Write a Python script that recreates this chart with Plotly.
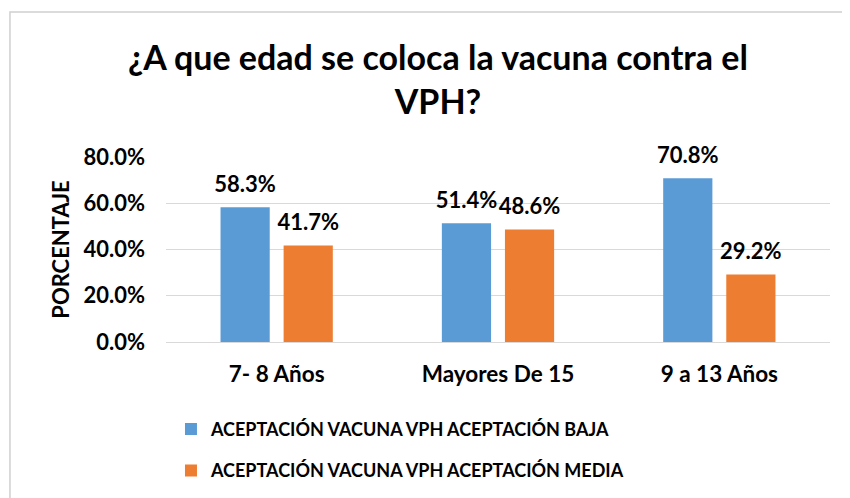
# ¿A que edad se coloca la vacuna contra el VPH? - aceptacion por grupo de edad
import plotly.graph_objects as go

categorias = ["7- 8 Años", "Mayores De 15", "9 a 13 Años"]
baja = [0.583, 0.514, 0.708]
media = [0.417, 0.486, 0.292]
series = ["ACEPTACIÓN VACUNA VPH ACEPTACIÓN BAJA", "ACEPTACIÓN VACUNA VPH ACEPTACIÓN MEDIA"]
colores = ["#5B9BD5", "#ED7D31"]

FONT = "Lato"
BAR_GAP = 0.43
OFF = 8  # page body margin added by write_html

fig = go.Figure()
for nombre, valores, color in zip(series, [baja, media], colores):
    fig.add_trace(go.Bar(
        x=categorias, y=valores, name=nombre,
        marker=dict(color=color, line=dict(width=0)),
        offsetgroup=nombre, legendgroup=nombre,
    ))
# data labels, placed a bit higher than plotly's "outside" does (excel style)
for nombre, valores in zip(series, [baja, media]):
    fig.add_trace(go.Scatter(
        x=categorias, y=valores, mode="markers+text",
        text=[f"{v*100:.1f}%" for v in valores],
        textposition="top center",
        textfont=dict(family=FONT, size=22, color="#000000", weight="bold"),
        marker=dict(size=14, opacity=0),
        offsetgroup=nombre, showlegend=False, hoverinfo="skip",
        cliponaxis=False,
    ))

fig.update_layout(
    width=850, height=498,
    margin=dict(l=166 - OFF, r=20 + OFF, t=157 - OFF, b=156 + OFF, autoexpand=False),
    paper_bgcolor="white", plot_bgcolor="white",
    barmode="group", bargap=BAR_GAP, bargroupgap=0.22,
    scattermode="group", scattergap=BAR_GAP,
    font=dict(family=FONT, color="#000000"),
    title=dict(
        text="<b>¿A que edad se coloca la vacuna contra el<br>VPH?</b>",
        x=(438 - OFF) / 850, xanchor="center", xref="container",
        y=0.875, yanchor="middle", yref="container",
        font=dict(family=FONT, size=34, color="#000000"),
    ),
    legend=dict(
        orientation="v", x=0.0075, xanchor="left", y=-0.372, yanchor="top",
        traceorder="grouped", tracegroupgap=15,
        font=dict(family=FONT, size=18, color="#000000", weight="bold"),
    ),
    showlegend=True,
)
fig.update_xaxes(
    showline=False, ticks="", showgrid=False, automargin=False,
    ticklabelstandoff=16,
    tickfont=dict(family=FONT, size=22.5, weight="bold"),
)
fig.update_yaxes(
    range=[0, 0.8], dtick=0.2, tickformat=".1%", automargin=False,
    showgrid=True, gridcolor="#D9D9D9", gridwidth=1,
    zeroline=True, zerolinecolor="#D9D9D9", zerolinewidth=1,
    showline=False, ticks="", ticklabelstandoff=20,
    tickfont=dict(family=FONT, size=22, weight="bold"),
    title=dict(text="<b>PORCENTAJE</b>", font=dict(family=FONT, size=22), standoff=7),
)
# light grey chart border (Excel chart area)
fig.add_shape(type="rect", xref="paper", yref="paper",
              x0=-0.235, x1=1.2, y0=-1.5, y1=1.784,
              line=dict(color="#D0D0D0", width=1.5), layer="below")

fig.write_html("out.html")
